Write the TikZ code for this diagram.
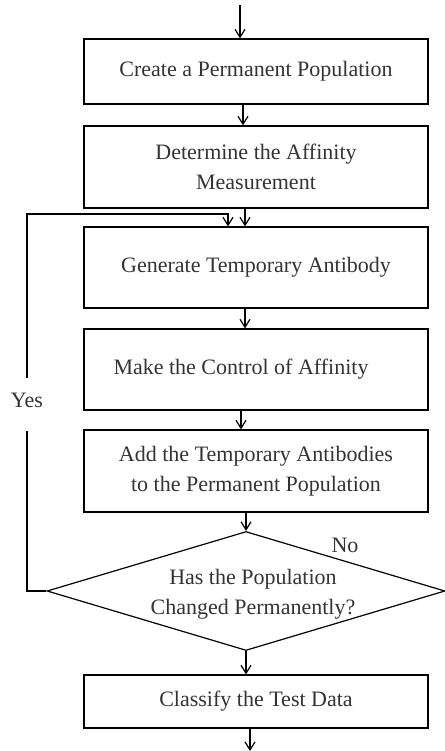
\documentclass[tikz,border=0pt]{standalone}
\usepackage{fontspec}
\setmainfont{Liberation Serif}
\usetikzlibrary{shapes.geometric,arrows.meta,calc}
\begin{document}
\begin{tikzpicture}[x=1pt,y=-1pt,
  every node/.style={text=black!80,font=\fontsize{22}{30}\selectfont},
  stepbox/.style={draw=black,line width=1.2pt,minimum width=344pt,inner sep=0pt,align=center},
  decision/.style={draw=black,line width=1.2pt,shape=diamond,minimum width=398pt,minimum height=119pt,inner sep=0pt},
  arr/.style={draw=black,line width=1.2pt,-{Straight Barb[length=8pt,width=10pt]}},
  ln/.style={draw=black,line width=1.2pt}]
\useasboundingbox (0,0) rectangle (444,751);
\node[stepbox,minimum height=65pt] (b1) at (256,71.5) {Create a Permanent Population};
\node[stepbox,minimum height=82pt] (b2) at (256,167) {Determine the Affinity\\Measurement};
\node[stepbox,minimum height=81pt] (b3) at (256,267.5) {Generate Temporary Antibody};
\node[stepbox,minimum height=81pt] (b4) at (256,369.5) {\hspace*{-30pt}Make the Control of Affinity};
\node[stepbox,minimum height=82pt] (b5) at (256,471) {Add the Temporary Antibodies\\to the Permanent Population};
\node[decision] (dia) at (246,591) {};
\node[align=center] (diat) at (253,594) {Has the Population\\Changed Permanently?};
\node[stepbox,minimum height=53pt] (b6) at (256,701.5) {Classify the Test Data};
\node (no) at (345,545) {No};
\node (yes) at (27,400) {Yes};
\coordinate (top) at (240,5);
\coordinate (end) at (250,751);
\coordinate (ya) at (27,378);
\coordinate (yb) at (27,431);
\coordinate (lp) at (228,214);
\draw[arr] (top) -- (b1.north -| top);
\draw[arr] ([xshift=-13pt]b1.south) -- ([xshift=-13pt]b2.north);
\draw[arr] ([xshift=-11pt]b2.south) -- ([xshift=-11pt]b3.north);
\draw[arr] ([xshift=-11pt]b3.south) -- ([xshift=-11pt]b4.north);
\draw[arr] ([xshift=-15pt]b4.south) -- ([xshift=-15pt]b5.north);
\draw[arr] (b5.south -| dia.north) -- (dia.north);
\draw[arr] (dia.south) -- (b6.north -| dia.south);
\draw[arr] (b6.south -| end) -- (end);
\draw[ln] (dia.west) -| (yb);
\draw[arr] (ya) |- (lp) -- (lp |- b3.north);
\end{tikzpicture}
\end{document}
